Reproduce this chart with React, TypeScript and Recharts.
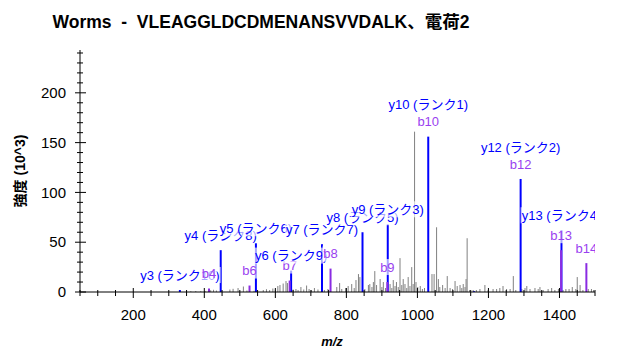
import React from "react";
import { ComposedChart, XAxis, YAxis, Scatter, ReferenceLine } from "recharts";

const title = "Worms  -  VLEAGGLDCDMENANSVVDALK、電荷2";
const yAxisTitle = "強度 (10^3)";
const xAxisTitle = "m/z";

// axis ticks
const xTicks = [
  50, 100, 150, 200, 250, 300, 350, 400, 450, 500, 550, 600, 650, 700, 750, 800,
  850, 900, 950, 1000, 1050, 1100, 1150, 1200, 1250, 1300, 1350, 1400, 1450, 1500,
];
const xTickLabels = [200, 400, 600, 800, 1000, 1200, 1400];
const yTicks = [
  0, 10, 20, 30, 40, 50, 60, 70, 80, 90, 100, 110, 120, 130, 140, 150, 160, 170,
  180, 190, 200, 210, 220, 230, 240,
];
const yTickLabels = [0, 50, 100, 150, 200];

// y ions (blue)
const yIonNames = ["y3", "y4", "y5", "y6", "y7", "y8", "y9", "y10", "y11", "y12", "y13"];
const yIonMz = [331.2, 446.2, 545.3, 644.4, 731.4, 845.4, 916.5, 1030.5, 1159.6, 1290.6, 1405.6];
const yIonIntensity = [2, 42, 49, 21.5, 48, 60, 68, 156, 0.8, 113.5, 62];
const yIonRank = [10, 8, 6, 9, 7, 5, 3, 1, 0, 2, 4];

// b ions (purple)
const bIonNames = ["b4", "b6", "b7", "b8", "b9", "b10", "b12", "b13", "b14"];
const bIonMz = [413.2, 527.3, 640.3, 755.4, 915.4, 1030.5, 1290.6, 1404.6, 1475.7];
const bIonIntensity = [3.5, 6.5, 11.5, 23.5, 10, 156, 113.5, 42, 29];

// unassigned peaks (gray)
const noiseMz = [
  362, 376, 390, 402, 418, 426, 434, 472, 481, 495, 510, 520, 540, 566, 575, 584,
  593, 600, 607, 613, 622, 630, 634, 650, 658, 664, 672, 680, 688, 695, 702, 710,
  720, 738, 748, 773, 781, 787, 798, 805, 815, 822, 827, 834, 838, 852, 862, 866,
  872, 876, 880, 885, 895, 900, 904, 910, 923, 928, 932, 937, 941, 946, 951, 956,
  960, 965, 970, 974, 979, 984, 988, 992, 996, 1001, 1008, 1014, 1020, 1041, 1047,
  1054, 1059, 1063, 1071, 1078, 1084, 1092, 1099, 1106, 1112, 1120, 1125, 1129,
  1134, 1137, 1140, 1147, 1157, 1166, 1176, 1190, 1199, 1213, 1223, 1232, 1241,
  1251, 1261, 1270, 1277, 1294, 1303, 1308, 1317, 1331, 1340, 1345, 1354, 1368,
  1378, 1387, 1397, 1410, 1418, 1427, 1436, 1446, 1450, 1458, 1466, 1481, 1490, 1496,
];
const noiseIntensity = [
  0.8, 1, 0.8, 1, 1.8, 2.2, 1.5, 2.5, 3.2, 4, 5.5, 1.5, 1.2, 2, 2.8, 2,
  3.5, 2.5, 6, 7, 8.5, 11, 9, 2.5, 3, 2, 5, 2.5, 6.5, 3, 2, 4,
  2.5, 2, 3, 5, 9, 3, 4, 6, 8, 4, 12, 18, 15, 3, 7, 8,
  5, 10, 21, 7, 13, 5, 10, 4, 8, 4, 12, 6, 10, 5, 34, 7,
  13, 8, 4, 15, 6, 25, 8, 161, 10, 5, 6, 3, 4, 18, 18,
  65, 13, 5, 7, 4, 16, 4, 3, 11, 6, 7, 4, 8,
  5, 13, 54, 2, 2, 2, 3, 7, 2, 3, 3, 4, 6,
  3, 3, 16, 2, 3, 4, 6, 3, 4, 3, 5, 2, 3,
  4, 2, 3, 2, 3, 3, 5, 3, 15, 7, 2, 3, 3, 2,
];

const FONT = '"Liberation Sans", Arial, "Noto Sans CJK JP", sans-serif';
const BLUE = "#0000ff";
const PURPLE = "#8a2be2";
const B_LABEL = "#9a3ff0";
const GRAY = "#808080";

const labelItems = [
  ...yIonNames.map((name, i) => ({
    mz: yIonMz[i],
    intensity: yIonIntensity[i],
    text: yIonRank[i] ? `${name} (ランク${yIonRank[i]})` : "",
    color: BLUE,
    stack: bIonMz.includes(yIonMz[i]) ? 1 : 0,
  })),
  ...bIonNames.map((name, i) => ({
    mz: bIonMz[i],
    intensity: bIonIntensity[i],
    text: name,
    color: B_LABEL,
    stack: 0,
  })),
]
  .filter((d) => d.text)
  .sort((a, b) => a.mz - b.mz);

function textWidth(s: string, size: number) {
  let w = 0;
  for (const ch of s) {
    if (ch.charCodeAt(0) > 0x2000) w += 1;
    else if (ch === " ") w += 0.278;
    else if (ch === "(" || ch === ")") w += 0.333;
    else if (ch === "y" || ch === "b") w += 0.52;
    else w += 0.556;
  }
  return w * size;
}

function PeakLabel(props: any) {
  const { cx, cy, payload } = props;
  if (cx == null || cy == null) return null;
  const w = textWidth(payload.text, 13);
  const y = cy - 15 - payload.stack * 17;
  return (
    <g>
      <rect x={cx - w / 2 - 1} y={y - 8} width={w + 2} height={16} fill="#fff" fillOpacity={0.65} />
      <text x={cx} y={y} dy="0.35em" textAnchor="middle" fill={payload.color} fontSize={13} fontFamily={FONT}>
        {payload.text}
      </text>
    </g>
  );
}

function XTick(props: any) {
  const { x, y, payload } = props;
  const major = xTickLabels.includes(payload.value);
  return (
    <g>
      <line x1={x} x2={x} y1={major ? y - 4 : y - 2} y2={major ? y + 6 : y + 4} stroke="#000" />
      {major && (
        <text x={x} y={y + 23} dy="0.35em" textAnchor="middle" fontSize={15} fontFamily={FONT} fill="#000">
          {payload.value}
        </text>
      )}
    </g>
  );
}

function YTick(props: any) {
  const { x, y, payload } = props;
  const major = yTickLabels.includes(payload.value);
  return (
    <g>
      <line x1={major ? x - 5 : x - 3} x2={major ? x + 6 : x + 3} y1={y} y2={y} stroke="#000" />
      {major && (
        <text x={x - 14} y={y} dy="0.35em" textAnchor="end" fontSize={15} fontFamily={FONT} fill="#000">
          {payload.value}
        </text>
      )}
    </g>
  );
}

export default function App() {
  return (
    <div style={{ position: "absolute", left: 0, top: 0, width: 626, height: 360, background: "#fff" }}>
      <div
        style={{
          position: "absolute",
          left: 261,
          top: 20,
          transform: "translate(-50%, -50%)",
          whiteSpace: "pre",
          fontFamily: FONT,
          fontWeight: "bold",
          fontSize: 17.5,
          color: "#000",
        }}
      >
        {title}
      </div>
      <div
        style={{
          position: "absolute",
          left: 18.5,
          top: 171,
          transform: "translate(-50%, -50%) rotate(-90deg)",
          whiteSpace: "pre",
          fontFamily: FONT,
          fontWeight: "bold",
          fontSize: 14,
          color: "#000",
        }}
      >
        {yAxisTitle}
      </div>
      <div
        style={{
          position: "absolute",
          left: 332,
          top: 341,
          transform: "translate(-50%, -50%)",
          fontFamily: FONT,
          fontWeight: "bold",
          fontStyle: "italic",
          fontSize: 13,
          color: "#000",
        }}
      >
        {xAxisTitle}
      </div>
      <ComposedChart width={626} height={360} margin={{ top: 50, right: 31, bottom: 0, left: 0 }}>
        <XAxis
          type="number"
          dataKey="mz"
          domain={[50, 1500]}
          ticks={xTicks}
          interval={0}
          allowDataOverflow
          height={68}
          tickSize={0}
          tickMargin={0}
          tickLine={false}
          axisLine={{ stroke: "#000" }}
          tick={<XTick />}
        />
        <YAxis
          type="number"
          domain={[0, 243]}
          ticks={yTicks}
          interval={0}
          width={80}
          tickSize={0}
          tickMargin={0}
          tickLine={false}
          axisLine={{ stroke: "#000" }}
          tick={<YTick />}
        />
        {noiseMz.map((mz, i) => (
          <ReferenceLine
            key={"n" + i}
            segment={[{ x: mz, y: 0 }, { x: mz, y: noiseIntensity[i] }]}
            stroke={GRAY}
            strokeWidth={1}
          />
        ))}
        {yIonMz.map((mz, i) => (
          <ReferenceLine
            key={"y" + i}
            segment={[{ x: mz, y: 0 }, { x: mz, y: yIonIntensity[i] }]}
            stroke={BLUE}
            strokeWidth={2}
          />
        ))}
        {bIonMz.map((mz, i) =>
          yIonMz.includes(mz) ? null : (
            <ReferenceLine
              key={"b" + i}
              segment={[{ x: mz, y: 0 }, { x: mz, y: bIonIntensity[i] }]}
              stroke={PURPLE}
              strokeWidth={2}
            />
          )
        )}
        <Scatter data={labelItems} dataKey="intensity" shape={<PeakLabel />} isAnimationActive={false} />
      </ComposedChart>
    </div>
  );
}
